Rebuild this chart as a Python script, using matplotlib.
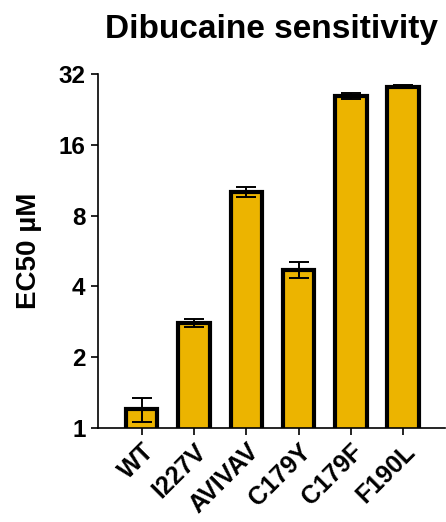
import matplotlib
matplotlib.use("Agg")
import matplotlib.pyplot as plt
from matplotlib.ticker import FixedLocator, FixedFormatter, NullLocator
from matplotlib.transforms import ScaledTranslation

plt.rcParams["font.family"] = ["Liberation Sans", "DejaVu Sans"]
plt.rcParams["font.weight"] = "bold"

# EC50 (µM) per construct, mean and SD
variants = ["WT", "I227V", "AVIVAV", "C179Y", "C179F", "F190L"]
ec50 = [1.2, 2.8, 10.1, 4.71, 25.9, 28.3]
ec50_sd = [0.14, 0.1, 0.5, 0.38, 0.8, 0.4]
yticks = [1, 2, 4, 8, 16, 32]

fig = plt.figure(figsize=(4.46, 5.22), dpi=100)
ax = fig.add_axes([0.2197, 0.1801, 0.778, 0.678])

x = range(len(variants))
ax.bar(x, ec50, width=0.6, color="#ECB400", edgecolor="black", linewidth=3.0, zorder=2)
ax.errorbar(x, ec50, yerr=ec50_sd, fmt="none", ecolor="black", elinewidth=1.4,
            capsize=7, capthick=1.4, zorder=3)

ax.set_yscale("log", base=2)
ax.set_ylim(1, 32)
ax.set_xlim(-0.835, 5.8)
ax.yaxis.set_major_locator(FixedLocator(yticks))
ax.yaxis.set_major_formatter(FixedFormatter([str(t) for t in yticks]))
ax.yaxis.set_minor_locator(NullLocator())

ax.set_xticks(list(x))
ax.set_xticklabels(variants, rotation=45, ha="right", rotation_mode="anchor",
                   fontsize=18, fontweight="bold")
# nudge the slanted labels a little left so they end under their ticks
shift = ScaledTranslation(-6 / 72, -2 / 72, fig.dpi_scale_trans)
for lab in ax.get_xticklabels():
    lab.set_transform(lab.get_transform() + shift)
for lab in ax.get_yticklabels():
    lab.set_fontsize(17.5)
    lab.set_fontweight("bold")

for side in ("top", "right"):
    ax.spines[side].set_visible(False)
for side in ("left", "bottom"):
    ax.spines[side].set_linewidth(1.2)
ax.tick_params(width=1.2, length=5, pad=4)
ax.tick_params(axis="x", pad=3)

ax.set_ylabel("EC50 µM", fontsize=20, fontweight="bold", labelpad=12)
ax.set_title("Dibucaine sensitivity", fontsize=24, fontweight="bold", pad=26)

fig.savefig("out.png", dpi=100)
